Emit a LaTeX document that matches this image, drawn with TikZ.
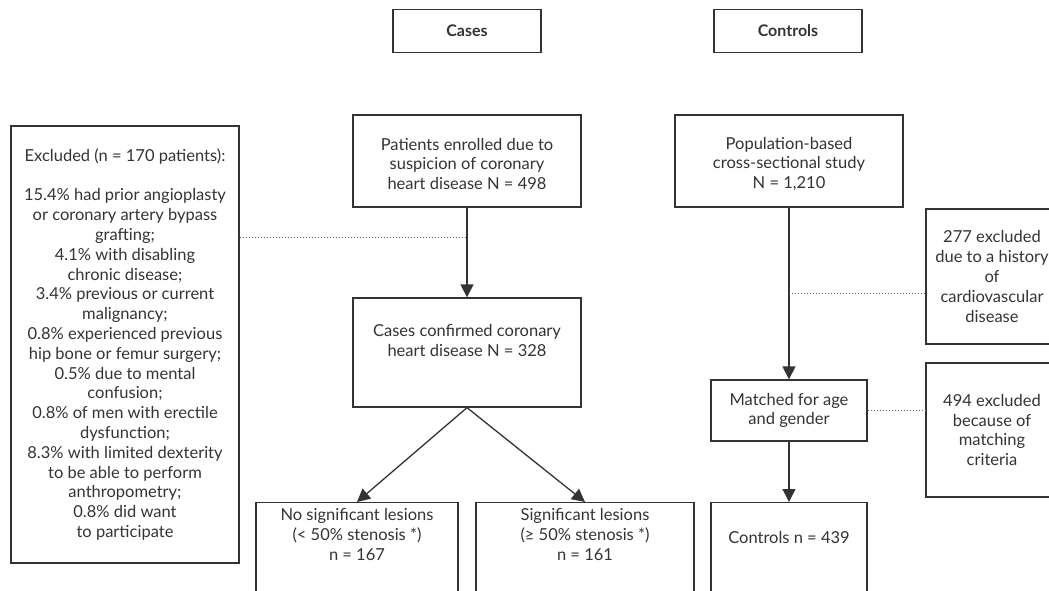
\documentclass[tikz,border=0pt]{standalone}
\usepackage{fontspec}
\setmainfont{Lato}
\usepackage{tikz}
\usetikzlibrary{arrows.meta, positioning, calc}
\definecolor{ink}{HTML}{333333}
\newcommand{\tailstrut}[2][-90pt]{\rule[#1]{0pt}{#2}}

\begin{document}
\begin{tikzpicture}[
  x=1pt, y=-1pt,
  font=\fontsize{16.5}{19.8}\selectfont, text=ink,
  box/.style={
    draw=ink, line width=1.3pt, align=center, inner sep=4pt
  },
  head/.style={
    box, font=\fontsize{16}{19}\selectfont\bfseries,
    minimum width=148pt, minimum height=43pt
  },
  lower/.style={box, anchor=north, inner ysep=6pt},
  fleche/.style={
    -{Triangle[length=13pt, width=13pt]},
    line width=1.3pt, draw=ink
  },
  pointille/.style={draw=black!60, line width=1pt, dash pattern=on 1pt off 2pt}
]
  \useasboundingbox (0,0) rectangle (1049,591);
  \clip (0,0) rectangle (1049,591);

  \node[head] (cases) at (467,31) {Cases};
  \node[head] (controls) at (788,31) {Controls};

  \node[box, minimum width=228pt, minimum height=437pt] (excl) at (125,344.5)
    {Excluded (n = 170 patients):\\[19.8pt]
     15.4\% had prior angioplasty\\or coronary artery bypass\\grafting;\\
     4.1\% with disabling\\chronic disease;\\
     3.4\% previous or current\\malignancy;\\
     0.8\% experienced previous\\hip bone or femur surgery;\\
     0.5\% due to mental\\confusion;\\
     0.8\% of men with erectile\\dysfunction;\\
     8.3\% with limited dexterity\\to be able to perform\\anthropometry;\\
     0.8\% did want\\to participate};

  \node[box, minimum width=228pt, minimum height=92pt] (enrol) at (467,161)
    {\tailstrut[0pt]{18pt}Patients enrolled due to\\suspicion of coronary\\heart disease N = 498};
  \node[box, minimum width=228pt, minimum height=109pt] (confirm) at (467,352.5)
    {Cases confirmed coronary\\heart disease N = 328\tailstrut[-24pt]{0pt}};

  \node[box, minimum width=228pt, minimum height=92pt] (popul) at (789,161)
    {\tailstrut[0pt]{18pt}Population-based\\cross-sectional study\\N = 1,210};
  \node[box, minimum width=156pt, minimum height=61pt] (match) at (789,410.5)
    {Matched for age\\and gender};
  \node[box, minimum width=132pt, minimum height=135pt] (excvd) at (992,276.5)
    {277 excluded\\due to a history\\of\\cardiovascular\\disease};
  \node[box, minimum width=132pt, minimum height=134pt] (excmatch) at (992,430)
    {494 excluded\\because of\\matching\\criteria};

  \node[lower, minimum width=202pt] (nosig) at (357,502)
    {No significant lesions\\(< 50\% stenosis *)\\n = 167\tailstrut{0pt}};
  \node[lower, minimum width=218pt] (sig) at (585,502)
    {Significant lesions\\(≥ 50\% stenosis *)\\n = 161\tailstrut{0pt}};
  \node[lower, minimum width=156pt] (ctrl) at (789,502)
    {\tailstrut{125pt}Controls n = 439};

  \coordinate (dotcase) at (467,237);
  \coordinate (dotcvd) at (789,293);

  \draw[fleche] (enrol) -- (confirm);
  \draw[fleche] (confirm.south) -- (nosig.north);
  \draw[fleche] (confirm.south) -- (sig.north);
  \draw[fleche] (popul) -- (match);
  \draw[fleche] (match) -- (ctrl);

  \draw[pointille] (dotcase -| excl.east) -- (dotcase);
  \draw[pointille] (dotcvd) -- (dotcvd -| excvd.west);
  \draw[pointille] (match.east) -- (match.east -| excmatch.west);
\end{tikzpicture}
\end{document}
